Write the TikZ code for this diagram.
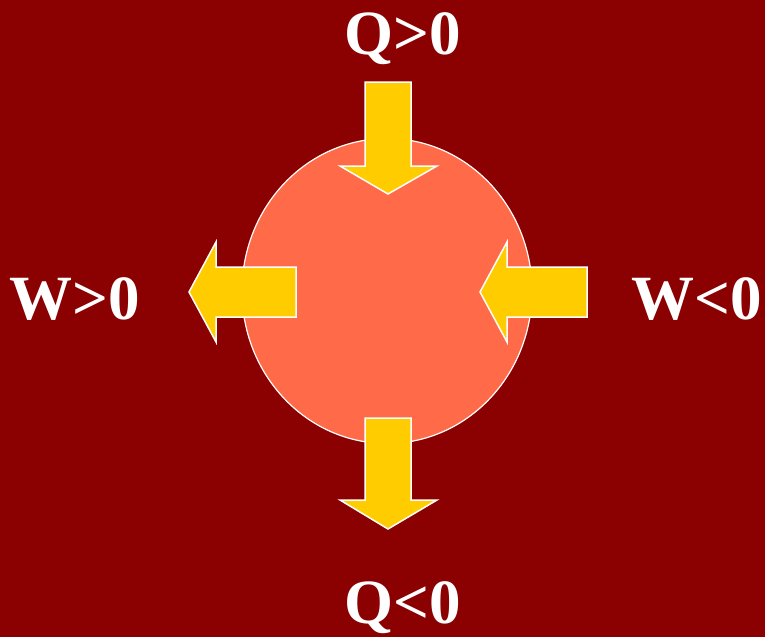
\documentclass[tikz,border=0pt]{standalone}
\usepackage{fontspec}
\setmainfont{Liberation Serif}
\usetikzlibrary{shapes.geometric}
\definecolor{bgred}{HTML}{8B0000}
\definecolor{ovalfill}{HTML}{FF6A48}
\definecolor{arrowyel}{HTML}{FFCC00}
\begin{document}
\begin{tikzpicture}[x=1pt,y=-1pt,
  lbl/.style={text=white,font=\bfseries\fontsize{63}{63}\selectfont,inner sep=0pt,anchor=base},
  fatarrow/.style={fill=arrowyel,draw=white,line width=1.5pt,line join=miter}]
\useasboundingbox (0,0) rectangle (765,637);
\fill[bgred] (0,0) rectangle (765,637);
% system
\node[ellipse,draw=white,fill=ovalfill,line width=1.2pt,minimum width=290pt,minimum height=305pt,inner sep=0pt] (sys) at (387,291) {};
% arrows
\draw[fatarrow] (365,82) -- (411,82) -- (411,166) -- (437,166) -- (388,194) -- (340,166) -- (365,166) -- cycle;
\draw[fatarrow] (365,418) -- (411,418) -- (411,500) -- (437,500) -- (388,529) -- (340,500) -- (365,500) -- cycle;
\draw[fatarrow] (296,267) -- (296,317) -- (216,317) -- (216,342) -- (189,292) -- (216,242) -- (216,267) -- cycle;
\draw[fatarrow] (587,267) -- (587,317) -- (507,317) -- (507,342) -- (480,292) -- (507,242) -- (507,267) -- cycle;
% labels
\node[lbl] (qin) at (403,54) {Q>0};
\node[lbl] (qout) at (403,623) {Q<0};
\node[lbl] (wout) at (75,319) {W>0};
\node[lbl] (win) at (697,319) {W<0};
\end{tikzpicture}
\end{document}
